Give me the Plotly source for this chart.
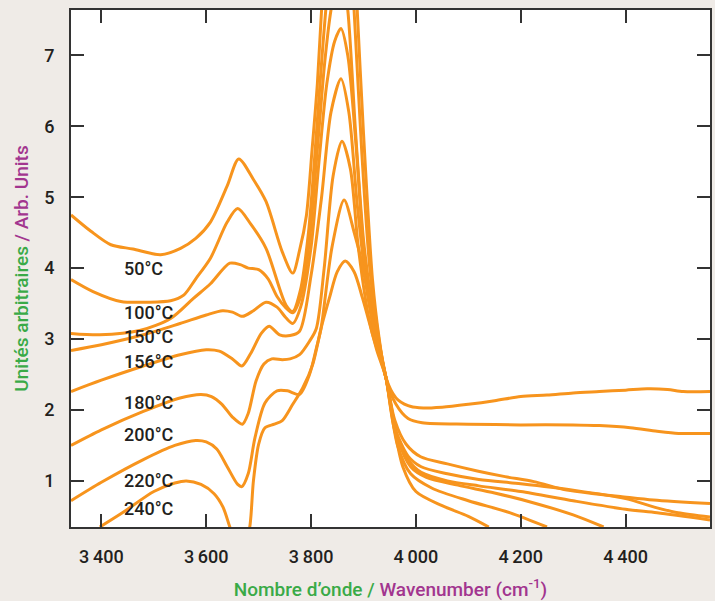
import plotly.graph_objects as go

# Wavenumber (cm-1) / arbitrary-unit values
x_50 = [3342, 3380, 3418, 3460, 3513, 3551, 3580, 3608, 3640, 3662, 3690, 3714, 3745, 3765, 3778, 3791, 3802, 3812, 3820, 3835, 3850, 3860, 3872, 3888, 3900, 3917, 3930, 3943, 3962, 3985, 4006, 4050, 4100, 4150, 4200, 4250, 4300, 4350, 4400, 4441, 4480, 4510, 4561]
y_50 = [4.75, 4.52, 4.33, 4.27, 4.19, 4.28, 4.42, 4.65, 5.16, 5.54, 5.25, 4.94, 4.23, 3.93, 4.25, 4.74, 5.68, 6.6, 7.64, 9.2, 10.3, 10.5, 10.0, 7.64, 5.9, 3.85, 3.0, 2.45, 2.17, 2.06, 2.03, 2.04, 2.08, 2.13, 2.19, 2.21, 2.24, 2.26, 2.28, 2.30, 2.29, 2.26, 2.26]

x_100 = [3342, 3384, 3437, 3490, 3532, 3557, 3580, 3608, 3640, 3660, 3685, 3714, 3752, 3765, 3780, 3795, 3808, 3818, 3828, 3845, 3860, 3872, 3882, 3897, 3914, 3943, 3962, 3985, 4012, 4100, 4200, 4300, 4350, 4409, 4460, 4501, 4561]
y_100 = [3.84, 3.67, 3.53, 3.52, 3.54, 3.62, 3.85, 4.14, 4.65, 4.84, 4.62, 4.28, 3.48, 3.39, 3.7, 4.5, 5.68, 6.7, 7.64, 8.9, 9.4, 8.8, 7.64, 5.6, 3.85, 2.45, 2.08, 1.88, 1.82, 1.80, 1.79, 1.79, 1.78, 1.75, 1.70, 1.67, 1.67]

x_150 = [3342, 3397, 3473, 3532, 3575, 3608, 3645, 3665, 3680, 3700, 3718, 3735, 3752, 3765, 3780, 3797, 3812, 3826, 3838, 3857, 3870, 3885, 3900, 3914, 3943, 3960, 3981, 4009, 4060, 4117, 4170, 4225, 4288, 4340, 4390, 4453, 4561]
y_150 = [3.08, 3.06, 3.12, 3.29, 3.57, 3.78, 4.07, 4.05, 4.0, 3.98, 3.85, 3.6, 3.44, 3.37, 3.6, 4.4, 5.68, 6.9, 7.64, 8.3, 7.64, 5.9, 4.4, 3.6, 2.45, 1.85, 1.52, 1.34, 1.24, 1.14, 1.06, 0.99, 0.87, 0.82, 0.78, 0.73, 0.68]

x_156 = [3342, 3400, 3480, 3550, 3600, 3631, 3650, 3669, 3690, 3714, 3735, 3752, 3765, 3780, 3800, 3815, 3830, 3845, 3857, 3870, 3885, 3900, 3915, 3943, 3960, 3985, 4010, 4060, 4120, 4200, 4300, 4400, 4460, 4500, 4561]
y_156 = [2.84, 2.92, 3.06, 3.22, 3.34, 3.40, 3.38, 3.32, 3.40, 3.52, 3.45, 3.30, 3.22, 3.45, 4.3, 5.5, 6.6, 7.2, 7.38, 7.0, 5.8, 4.3, 3.4, 2.45, 1.75, 1.35, 1.2, 1.1, 1.02, 0.96, 0.87, 0.75, 0.62, 0.55, 0.49]

x_180 = [3342, 3400, 3480, 3550, 3600, 3625, 3650, 3668, 3685, 3705, 3720, 3740, 3760, 3778, 3800, 3820, 3838, 3857, 3872, 3888, 3905, 3920, 3943, 3960, 3985, 4010, 4060, 4120, 4200, 4300, 4400, 4460, 4561]
y_180 = [2.26, 2.42, 2.62, 2.78, 2.85, 2.83, 2.72, 2.62, 2.80, 3.08, 3.18, 3.06, 3.05, 3.11, 3.9, 5.0, 6.2, 6.67, 6.2, 4.9, 3.8, 3.2, 2.45, 1.7, 1.3, 1.12, 1.0, 0.93, 0.85, 0.72, 0.60, 0.55, 0.45]

x_200 = [3342, 3400, 3480, 3550, 3590, 3610, 3630, 3650, 3669, 3680, 3695, 3710, 3725, 3745, 3760, 3778, 3797, 3810, 3825, 3842, 3859, 3875, 3890, 3910, 3925, 3943, 3965, 3990, 4020, 4080, 4150, 4220, 4300, 4358]
y_200 = [1.50, 1.72, 1.98, 2.17, 2.22, 2.19, 2.08, 1.90, 1.80, 1.95, 2.41, 2.65, 2.72, 2.71, 2.72, 2.78, 2.97, 3.15, 4.0, 5.3, 5.79, 5.4, 4.3, 3.3, 2.85, 2.45, 1.6, 1.2, 1.05, 0.94, 0.83, 0.70, 0.52, 0.35]

x_220 = [3342, 3400, 3480, 3540, 3580, 3600, 3620, 3640, 3660, 3668, 3680, 3693, 3712, 3735, 3755, 3778, 3797, 3810, 3819, 3840, 3863, 3882, 3898, 3920, 3943, 3965, 3990, 4030, 4100, 4180, 4250]
y_220 = [0.72, 0.98, 1.30, 1.50, 1.57, 1.55, 1.45, 1.20, 0.95, 0.92, 1.10, 1.61, 2.10, 2.27, 2.27, 2.22, 2.50, 2.87, 3.15, 4.3, 4.96, 4.51, 4.04, 3.1, 2.45, 1.5, 1.1, 0.9, 0.72, 0.55, 0.35]

x_240 = [3397, 3440, 3500, 3540, 3562, 3590, 3615, 3632, 3645, 3660, 3672, 3683, 3690, 3700, 3712, 3730, 3745, 3765, 3784, 3803, 3819, 3835, 3850, 3865, 3882, 3898, 3920, 3943, 3960, 3975, 4000, 4050, 4100, 4139]
y_240 = [0.35, 0.55, 0.85, 0.97, 1.00, 0.95, 0.82, 0.63, 0.35, 0.05, 0.05, 0.35, 1.0, 1.52, 1.75, 1.80, 1.85, 2.08, 2.31, 2.64, 3.15, 3.58, 3.95, 4.10, 3.95, 3.58, 3.0, 2.45, 1.7, 1.2, 0.85, 0.65, 0.50, 0.35]

series = [
    ("50°C", x_50, y_50), ("100°C", x_100, y_100), ("150°C", x_150, y_150),
    ("156°C", x_156, y_156), ("180°C", x_180, y_180), ("200°C", x_200, y_200),
    ("220°C", x_220, y_220), ("240°C", x_240, y_240),
]

label_names = ["50°C", "100°C", "150°C", "156°C", "180°C", "200°C", "220°C", "240°C"]
label_y = [4.00, 3.37, 3.04, 2.69, 2.10, 1.66, 1.01, 0.61]
label_x = 3440

x_ticks = [3400, 3600, 3800, 4000, 4200, 4400]
x_ticktext = ["3\u2009400", "3\u2009600", "3\u2009800", "4\u2009000", "4\u2009200", "4\u2009400"]
y_ticks = [1, 2, 3, 4, 5, 6, 7]

ORANGE = "#f7941d"
GREEN = "#3aaa47"
PURPLE = "#a2358f"
TEXT = "#231f20"
BG = "#efebe7"
FONT = "Roboto, Lato, sans-serif"

fig = go.Figure()
for name, xs, ys in series:
    fig.add_trace(go.Scatter(x=xs, y=ys, mode="lines", name=name,
                             line=dict(color=ORANGE, width=3, shape="spline", smoothing=0.8),
                             showlegend=False, hoverinfo="skip"))

for name, ly in zip(label_names, label_y):
    fig.add_annotation(x=label_x, y=ly, xref="x", yref="y", text=name, showarrow=False,
                       xanchor="left", yanchor="middle",
                       font=dict(family=FONT, size=18, color=TEXT, weight=500))

fig.update_layout(
    width=715, height=601,
    margin=dict(l=71, r=3, t=10, b=71),
    paper_bgcolor=BG, plot_bgcolor="white",
    font=dict(family=FONT, size=18, color=TEXT),
)
fig.update_xaxes(
    range=[3342, 4561], tickvals=x_ticks, ticktext=x_ticktext,
    ticks="inside", ticklen=13, tickwidth=2, tickcolor="#333",
    showline=True, linecolor="#333", linewidth=2, mirror="ticks",
    showgrid=False, zeroline=False, ticklabelstandoff=12,
    tickfont=dict(family=FONT, size=18, color=TEXT, weight=500),
    title=dict(text=f"<span style='color:{GREEN}'>Nombre d\u2019onde / </span><span style='color:{PURPLE}'>Wavenumber (cm<sup>-1</sup>)</span>",
               font=dict(family=FONT, size=19, weight=500), standoff=18),
)
fig.update_yaxes(
    range=[0.35, 7.64], tickvals=y_ticks,
    ticks="inside", ticklen=13, tickwidth=2, tickcolor="#333",
    showline=True, linecolor="#333", linewidth=2, mirror="ticks",
    showgrid=False, zeroline=False, ticklabelstandoff=11,
    tickfont=dict(family=FONT, size=18, color=TEXT, weight=500),
    title=dict(text=f"<span style='color:{GREEN}'>Unités arbitraires </span><span style='color:{PURPLE}'>/ Arb. Units</span>",
               font=dict(family=FONT, size=19, weight=500), standoff=11),
)

fig.write_html("out.html", config={"displayModeBar": False},
               post_script=f"document.body.style.margin='0';document.body.style.background='{BG}';")
